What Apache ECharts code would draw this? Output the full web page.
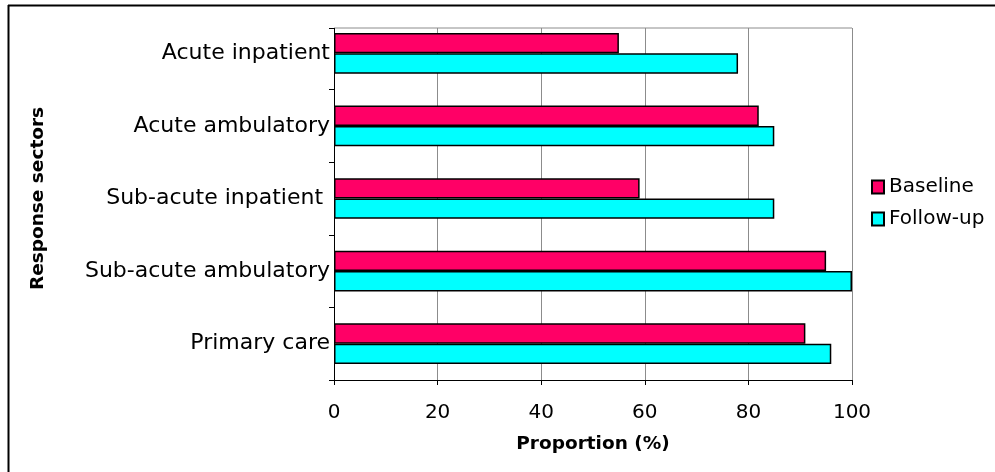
<!DOCTYPE html>
<html>
<head>
<meta charset="utf-8">
<script src="https://cdn.jsdelivr.net/npm/echarts@6/dist/echarts.min.js"></script>
<style>
  html, body { margin: 0; padding: 0; background: #fff; }
  #chart { width: 995px; height: 472px; }
</style>
</head>
<body>
<div id="chart"></div>
<script>
// Response sectors, listed top to bottom
const sectors = ['Acute inpatient', 'Acute ambulatory', 'Sub-acute inpatient ', 'Sub-acute ambulatory', 'Primary care'];
// Proportion (%) of responses per sector
const baseline = [55, 82, 59, 95, 91];
const followUp = [78, 85, 85, 100, 96];
const xTicks = { min: 0, max: 100, interval: 20 };

const FONT = 'DejaVu Sans, Verdana, sans-serif';
const chart = echarts.init(document.getElementById('chart'), null, { renderer: 'canvas' });

const option = {
  backgroundColor: '#ffffff',
  animation: false,
  grid: { left: 334, right: 143, top: 17, bottom: 92, containLabel: false },
  legend: {
    orient: 'vertical',
    left: 866,
    top: 172,
    itemWidth: 12,
    itemHeight: 13,
    itemGap: 12,
    icon: 'rect',
    textStyle: { fontFamily: FONT, fontSize: 20, color: '#000' },
    data: ['Baseline', 'Follow-up']
  },
  xAxis: {
    type: 'value',
    min: xTicks.min,
    max: xTicks.max,
    interval: xTicks.interval,
    name: 'Proportion (%)',
    nameLocation: 'middle',
    nameGap: 55,
    nameTextStyle: { fontFamily: FONT, fontSize: 18.5, fontWeight: 'bold', color: '#000' },
    axisLine: { show: true, lineStyle: { color: '#000', width: 1 } },
    axisTick: { show: true, length: 5, lineStyle: { color: '#000' } },
    axisLabel: { fontFamily: FONT, fontSize: 20, color: '#000', margin: 23 },
    splitLine: { show: true, lineStyle: { color: '#8c8c8c', width: 1 } }
  },
  yAxis: {
    type: 'category',
    inverse: true,
    data: sectors,
    name: 'Response sectors',
    nameLocation: 'middle',
    nameGap: 286,
    nameTextStyle: { fontFamily: FONT, fontSize: 18.5, fontWeight: 'bold', color: '#000' },
    axisLine: { show: true, lineStyle: { color: '#000', width: 1 } },
    axisTick: { show: true, length: 5, lineStyle: { color: '#000' } },
    axisLabel: { fontFamily: FONT, fontSize: 22, color: '#000', margin: 4 },
    splitLine: { show: false }
  },
  series: [
    {
      name: 'Baseline',
      type: 'bar',
      data: baseline,
      barGap: '0%',
      barCategoryGap: '44%',
      itemStyle: { color: '#ff0066', borderColor: '#000', borderWidth: 1.5 }
    },
    {
      name: 'Follow-up',
      type: 'bar',
      data: followUp,
      barGap: '0%',
      barCategoryGap: '44%',
      itemStyle: { color: '#00ffff', borderColor: '#000', borderWidth: 1.5 }
    }
  ],
  graphic: [
    // plot area starts a little below the first band
    { type: 'rect', shape: { x: 320, y: 0, width: 545, height: 28 }, style: { fill: '#fff' }, z: 100 },
    { type: 'line', shape: { x1: 334, y1: 28, x2: 852, y2: 28 }, style: { stroke: '#8c8c8c', lineWidth: 1 }, z: 101 },
    { type: 'line', shape: { x1: 334.5, y1: 28, x2: 334.5, y2: 40 }, style: { stroke: '#000', lineWidth: 1 }, z: 101 },
    { type: 'line', shape: { x1: 329, y1: 28.5, x2: 334, y2: 28.5 }, style: { stroke: '#000', lineWidth: 1 }, z: 101 },
    // outer frame
    { type: 'line', shape: { x1: 8, y1: 5.5, x2: 995, y2: 5.5 }, style: { stroke: '#000', lineWidth: 2 }, z: 102 },
    { type: 'line', shape: { x1: 8.5, y1: 5, x2: 8.5, y2: 472 }, style: { stroke: '#000', lineWidth: 2 }, z: 102 }
  ]
};

chart.setOption(option);
</script>
</body>
</html>
